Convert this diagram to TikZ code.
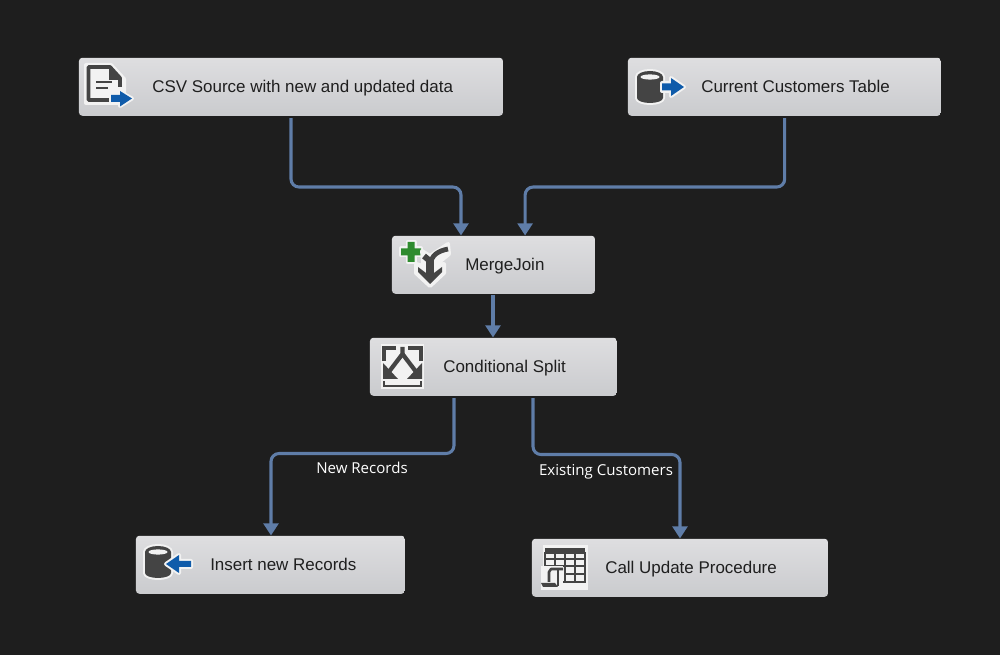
\documentclass[tikz,border=0pt]{standalone}
\usepackage{fontspec}
\setmainfont{Liberation Sans}
\newfontfamily\flowfont{Open Sans}
\usetikzlibrary{arrows.meta,calc}
\definecolor{bgc}{HTML}{1E1E1E}
\definecolor{boxtop}{HTML}{DEDEE0}
\definecolor{boxbot}{HTML}{CACBCE}
\definecolor{link}{HTML}{5F7DA8}
\definecolor{ink}{HTML}{444444}
\definecolor{blueic}{HTML}{0F5BAA}
\definecolor{greenic}{HTML}{2E8B2E}
\definecolor{halo}{HTML}{F2F2F2}
\tikzset{
 x=0.75pt,y=-0.75pt,
 taskbox/.style={rectangle,rounded corners=2.5pt,inner sep=0pt,top color=boxtop,bottom color=boxbot,anchor=north west,minimum height=43.5pt},
 tasklabel/.style={font=\fontsize{12.72pt}{14pt}\selectfont,text=black!88,anchor=base west,inner sep=0pt},
 flow/.style={draw=link,line width=2.3pt,rounded corners=6pt,-{Triangle[length=9pt,width=11pt]}},
 flowlabel/.style={font=\flowfont\fontsize{11.3pt}{13pt}\selectfont,text=white,inner sep=0pt,anchor=base},
 halostroke/.style={draw=halo,line width=3pt,fill=halo,line join=round},
 inkline/.style={draw=ink,line join=round},
}
\newcommand{\cyl}[2]{% left x, top y: database cylinder
 \begin{scope}[shift={(#1,#2)}]
  \path[halostroke] (0,3) arc[x radius=13,y radius=6,start angle=180,end angle=360] -- (26,24) arc[x radius=13,y radius=5,start angle=0,end angle=180] -- cycle;
  \fill[ink] (0,3) arc[x radius=13,y radius=6,start angle=180,end angle=360] -- (26,24) arc[x radius=13,y radius=5,start angle=0,end angle=180] -- cycle;
  \fill[halo] (13,3) ellipse[x radius=9.5,y radius=2.6];
 \end{scope}
}
\begin{document}
\begin{tikzpicture}
\useasboundingbox (0,0) rectangle (1000,655);
\fill[bgc] (0,0) rectangle (1000,655);
% boxes
\node[taskbox,minimum width=318pt] (csv) at (78.7,57.5) {};
\node[taskbox,minimum width=234.75pt] (cur) at (627.7,57.5) {};
\node[taskbox,minimum width=152.25pt] (mj) at (391.7,235.5) {};
\node[taskbox,minimum width=185.25pt] (cs) at (369.7,337.5) {};
\node[taskbox,minimum width=201.75pt] (ins) at (135.7,535.5) {};
\node[taskbox,minimum width=222pt] (upd) at (531.7,538.5) {};
% labels
\node[tasklabel] (tcsv) at (152,93) {CSV Source with new and updated data};
\node[tasklabel] (tcur) at (701,93) {Current Customers Table};
\node[tasklabel] (tmj) at (465,270.3) {MergeJoin};
\node[tasklabel] (tcs) at (443,372.8) {Conditional Split};
\node[tasklabel] (tins) at (210,570.3) {Insert new Records};
\node[tasklabel] (tupd) at (605,573.3) {Call Update Procedure};
% connectors
\draw[flow] ($(csv.south west)+(212.3,2)$) -- ++(0,69) -- ++(170,0) -- ($(mj.north west)+(69.3,0)$);
\draw[flow] ($(cur.south west)+(157,2)$) -- ++(0,69) -- ++(-259.6,0) -- ($(mj.north west)+(133.4,0)$);
\draw[flow] ($(mj.south west)+(101.3,1)$) -- ($(cs.north west)+(123.3,0)$);
\draw[flow] ($(cs.south west)+(84.3,2)$) -- ++(0,55.5) -- ++(-183,0) -- ($(ins.north west)+(135.3,0)$);
\draw[flow] ($(cs.south west)+(163.3,2)$) -- ++(0,56.5) -- ++(147,0) -- ($(upd.north west)+(148.3,0)$);
\node[flowlabel] (lnew) at (362,474) {New Records};
\node[flowlabel] (lex) at (606,476) {Existing Customers};
% CSV icon
\path[halostroke] (86,65) -- (111,65) -- (124,79) -- (124,103) -- (86,103) -- cycle;
\draw[inkline,line width=2.8pt] (112,100) -- (88.5,100) -- (88.5,67) -- (110,67) -- (120,78) -- (120,87);
\fill[ink] (109,67) -- (120,80) -- (109,80) -- cycle;
\draw[ink,line width=2pt] (96,82) -- (112,82) (96,88) -- (108,88);
\path[halostroke] (111,95) -- (120,95) -- (120,92) -- (132,98.5) -- (120,106) -- (120,102) -- (111,102) -- cycle;
\fill[blueic] (111,95) -- (120,95) -- (120,91) -- (132,98.5) -- (120,106.5) -- (120,102) -- (111,102) -- cycle;
% Current customers icon
\cyl{637}{74}
\path[halostroke] (662,83) -- (671,83) -- (671,78) -- (684,87) -- (671,96) -- (671,91) -- (662,91) -- cycle;
\fill[blueic] (662,83.5) -- (671,83.5) -- (671,78) -- (684,87) -- (671,96) -- (671,90.5) -- (662,90.5) -- cycle;
% MergeJoin icon
\path[halostroke] (407.5,242) -- (414.5,242) -- (414.5,248.5) -- (421,248.5) -- (421,255.5) -- (414.5,255.5) -- (414.5,262) -- (407.5,262) -- (407.5,255.5) -- (401,255.5) -- (401,248.5) -- (407.5,248.5) -- cycle;
\fill[greenic] (407.5,242) -- (414.5,242) -- (414.5,248.5) -- (421,248.5) -- (421,255.5) -- (414.5,255.5) -- (414.5,262) -- (407.5,262) -- (407.5,255.5) -- (401,255.5) -- (401,248.5) -- (407.5,248.5) -- cycle;
\path[halostroke] (422,251) -- (430,256) -- (448,244) -- (449,254) -- (438,263) -- (438,266) -- (444,264) -- (444,273) -- (430,286) -- (416,273) -- (416,264) -- (423,266) -- (423,260) -- cycle;
\draw[ink,line width=3.6pt] (448,249) .. controls (438,251) and (431,255) .. (430,266);
\draw[ink,line width=4.5pt] (424,256) -- (430,261);
\draw[ink,line width=5.5pt] (430,260) -- (430,276);
\fill[ink] (418,267) -- (430,276) -- (442,267) -- (442,272) -- (430,284) -- (418,272) -- cycle;
% Conditional split icon
\fill[halo] (381,344) rectangle (424,389);
\draw[ink,line width=2.4pt] (396,348) -- (384,348) -- (384,361) (408,348) -- (421,348) -- (421,361);
\draw[ink,line width=3.2pt] (402.5,347) -- (402.5,354) -- (388,373);
\draw[ink,line width=3.2pt] (402.5,354) -- (417,373);
\fill[ink] (383,363) -- (383,379) -- (398,379) -- cycle;
\fill[ink] (422,363) -- (422,379) -- (407,379) -- cycle;
\draw[ink,line width=1.6pt] (384,381) -- (384,386) -- (421,386) -- (421,381);
% Insert icon
\cyl{145}{549}
\path[halostroke] (191,561) -- (179,561) -- (179,555) -- (166,564) -- (179,573) -- (179,567) -- (191,567) -- cycle;
\fill[blueic] (191,561) -- (179,561) -- (179,555) -- (166,564) -- (179,573) -- (179,567) -- (191,567) -- cycle;
% Update icon
\fill[halo] (543,545) rectangle (588,590);
\fill[ink] (545,548) rectangle (585,553);
\draw[ink,line width=0.9pt] (545,553) rectangle (585,582)
 (545,559) -- (585,559) (545,566) -- (585,566) (565,574) -- (585,574)
 (555,553) -- (555,566) (565,553) -- (565,582) (575,553) -- (575,582);
\fill[halo] (541,566) rectangle (563,590);
\draw[ink,line width=1.9pt,line join=round] (563,569) -- (551,569) -- (549,572) -- (549,582);
\draw[ink,line width=1.9pt] (558,569) -- (558,586);
\fill[ink] (541,583) -- (555,583) -- (558,587) -- (543,587) -- cycle;
\end{tikzpicture}
\end{document}
